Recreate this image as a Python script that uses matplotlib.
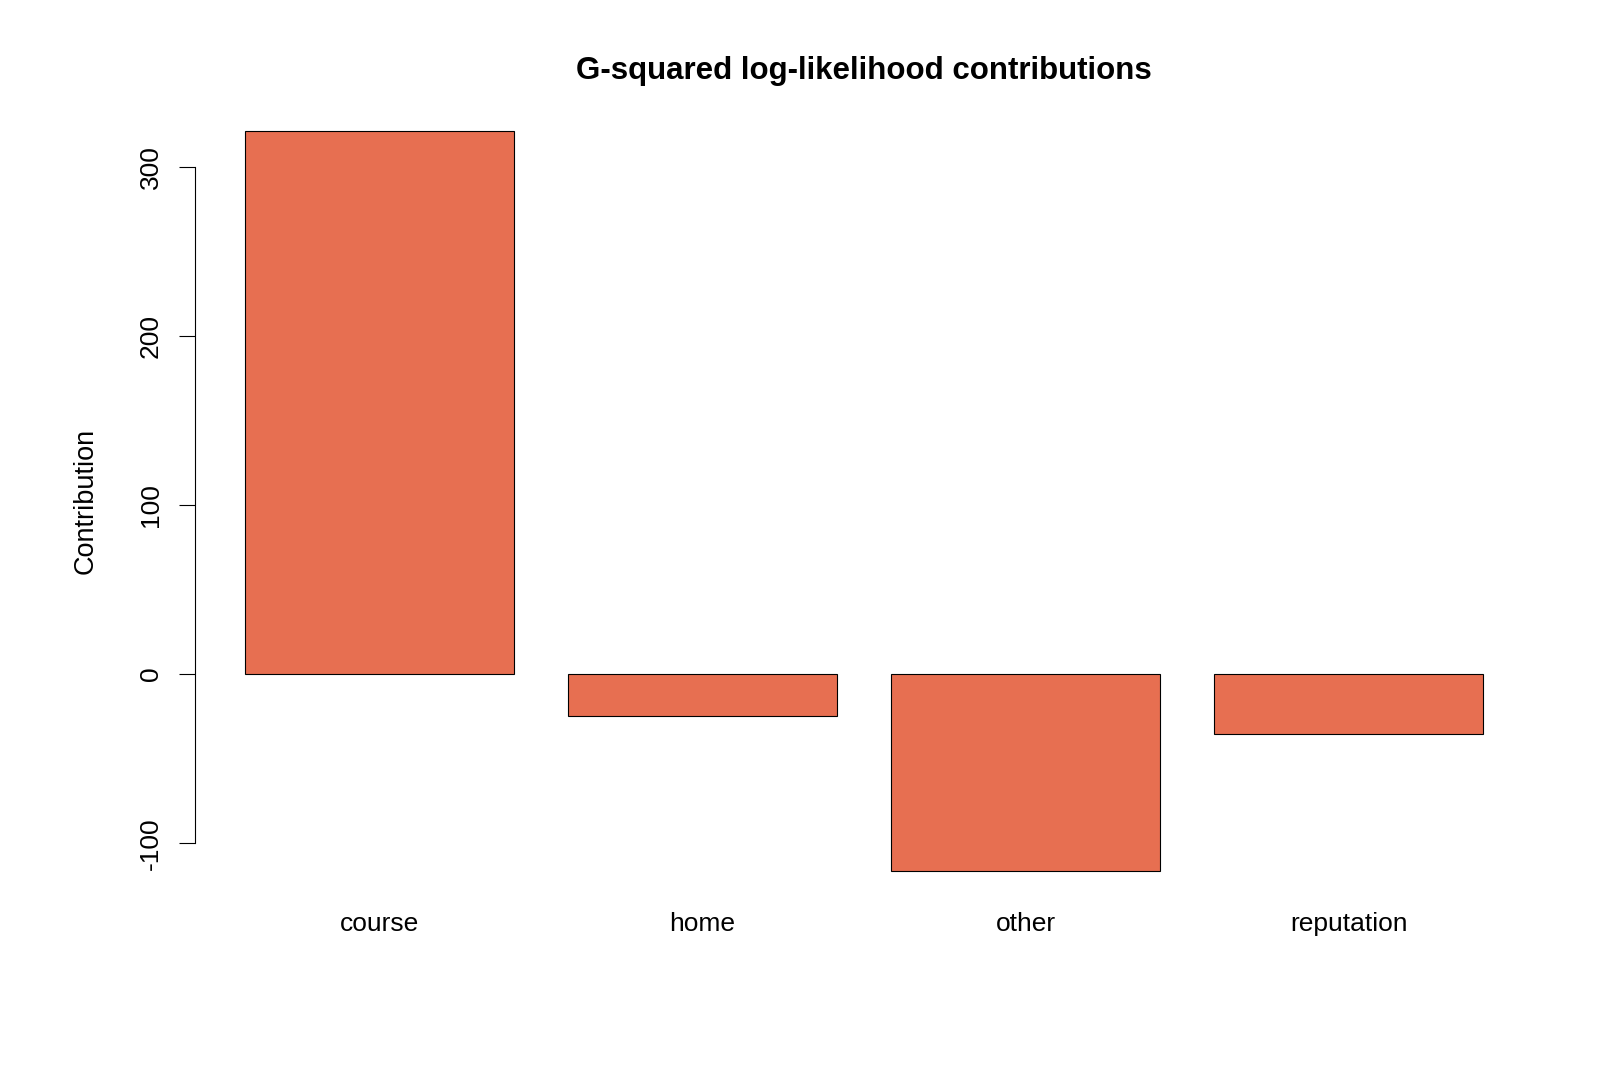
import matplotlib.pyplot as plt
import numpy as np

plt.rcParams['font.family'] = ['Liberation Sans', 'DejaVu Sans']

categories = ['course', 'home', 'other', 'reputation']
contributions = [321.1, -25.0, -116.4, -35.7]
yticks = [-100, 0, 100, 200, 300]

fig = plt.figure(figsize=(16, 10.67), dpi=100)
ax = fig.add_axes([0.122, 0.156, 0.836, 0.749])

# R barplot layout: width 1, space 0.2
pos = 0.7 + 1.2 * np.arange(len(categories))
ax.bar(pos, contributions, width=1.0, color='#E76F51', edgecolor='black', linewidth=0.8)

lo, hi = min(0, min(contributions)), max(0, max(contributions))
span = hi - lo
ax.set_ylim(lo - 0.04 * span, hi + 0.04 * span)
ax.set_xlim(0.2 - 0.04 * 4.6, 4.8 + 0.04 * 4.6)

for s in ['top', 'right', 'bottom']:
    ax.spines[s].set_visible(False)
ax.spines['left'].set_bounds(yticks[0], yticks[-1])
ax.spines['left'].set_linewidth(0.8)

ax.set_yticks(yticks)
ax.set_yticklabels([str(t) for t in yticks], rotation=90, va='center', fontsize=19)
ax.tick_params(axis='y', length=11.5, width=0.8, pad=12)
ax.set_xticks(pos)
ax.set_xticklabels(categories, fontsize=19)
ax.tick_params(axis='x', length=0, pad=8)

ax.set_ylabel('Contribution', fontsize=19.5, labelpad=29)
ax.set_title('G-squared log-likelihood contributions', fontsize=22.5, fontweight='bold', pad=16)

fig.savefig('out.png', dpi=100)
